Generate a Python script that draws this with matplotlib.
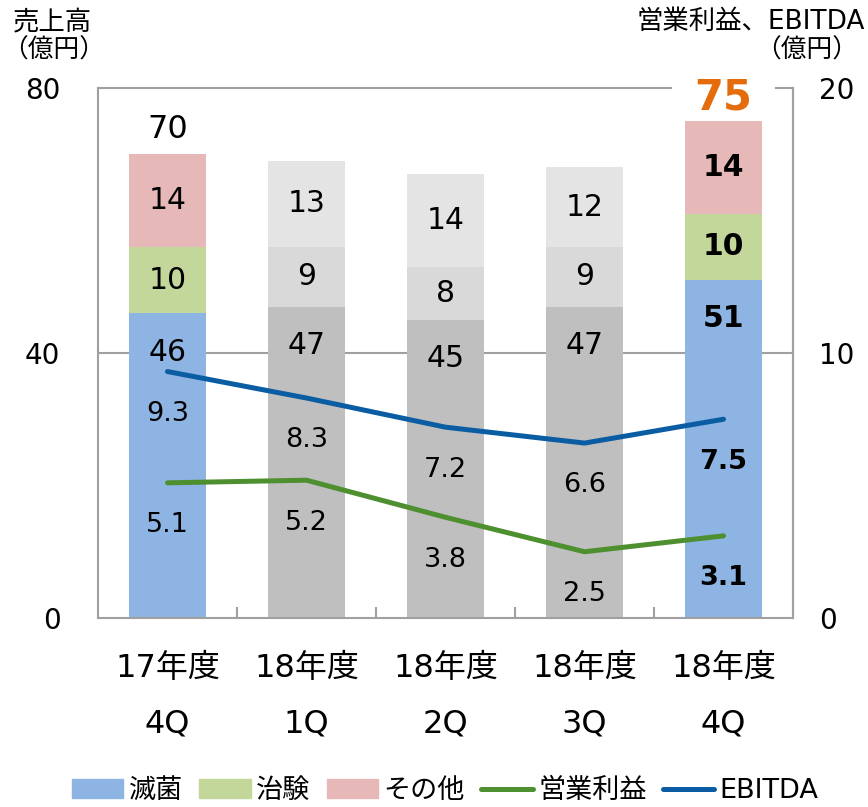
import numpy as np
import matplotlib
matplotlib.use('Agg')
import matplotlib.pyplot as plt
import matplotlib.transforms as mtrans
from matplotlib.patches import Patch
from matplotlib.lines import Line2D

plt.rcParams['font.family'] = ['DejaVu Sans', 'Noto Sans CJK JP']

# ---- data ----
periods = ['17年度\n4Q', '18年度\n1Q', '18年度\n2Q', '18年度\n3Q', '18年度\n4Q']
sterile = [46, 47, 45, 47, 51]      # 滅菌
trial = [10, 9, 8, 9, 10]           # 治験
other = [14, 13, 14, 12, 14]        # その他
totals = [70, None, None, None, 75]
op_profit = [5.1, 5.2, 3.8, 2.5, 3.1]
ebitda = [9.3, 8.3, 7.2, 6.6, 7.5]
highlight = [True, False, False, False, True]

# ---- colours ----
c_blue, c_green, c_pink = '#8DB4E2', '#C4D79B', '#E6B8B7'
g_bot, g_mid, g_top = '#BFBFBF', '#D9D9D9', '#E4E4E4'
c_op, c_eb = '#4E8F2F', '#0B5DA3'
c_axis = '#A0A0A0'

fig = plt.figure(figsize=(8.68, 8.07), dpi=100)
ax = fig.add_axes([0.1129, 0.2342, 0.8007, 0.6568])
ax2 = ax.twinx()

x = np.arange(len(periods))
w = 0.555
col_b = [c_blue if h else g_bot for h in highlight]
col_m = [c_green if h else g_mid for h in highlight]
col_t = [c_pink if h else g_top for h in highlight]

bot = np.array(sterile)
mid = np.array(trial)
ax.bar(x, sterile, w, color=col_b, zorder=2)
ax.bar(x, trial, w, bottom=bot, color=col_m, zorder=2)
ax.bar(x, other, w, bottom=bot + mid, color=col_t, zorder=2)

ax.set_xlim(-0.5, 4.5)
ax.set_ylim(0, 80)
ax.set_yticks([0, 40, 80])
ax.axhline(40, color=c_axis, lw=1.5, zorder=1)
ax2.set_ylim(0, 20)
ax2.set_yticks([0, 10, 20])

# segment labels
for i in x:
    fw = 'bold' if i == 4 else 'normal'
    ax.annotate(str(sterile[i]), (i, sterile[i]), xytext=(0, -28), textcoords='offset points',
                ha='center', va='center', fontsize=21.5, fontweight=fw, zorder=5)
    ax.text(i, sterile[i] + trial[i] / 2, str(trial[i]), ha='center', va='center',
            fontsize=21.5, fontweight=fw, zorder=5)
    ax.text(i, sterile[i] + trial[i] + other[i] / 2, str(other[i]), ha='center', va='center',
            fontsize=21.5, fontweight=fw, zorder=5)

# totals
ax.annotate(str(totals[0]), (0, sterile[0] + trial[0] + other[0]), xytext=(0, 18),
            textcoords='offset points', ha='center', va='center', fontsize=23)
ax2.annotate(str(totals[4]), (4, (sterile[4] + trial[4] + other[4]) / 4), xytext=(0, 17),
             textcoords='offset points', ha='center', va='center', fontsize=30,
             fontweight='bold', color='#E46C0A', zorder=6)

# lines
ax2.plot(x, ebitda, color=c_eb, lw=3.6, solid_capstyle='round', zorder=4)
ax2.plot(x, op_profit, color=c_op, lw=3.6, solid_capstyle='round', zorder=4)
for i in x:
    fw = 'bold' if i == 4 else 'normal'
    ax2.annotate(f'{ebitda[i]:.1f}', (i, ebitda[i]), xytext=(0, -30.5), textcoords='offset points',
                 ha='center', va='center', fontsize=19.5, fontweight=fw)
    ax2.annotate(f'{op_profit[i]:.1f}', (i, op_profit[i]), xytext=(0, -30.5), textcoords='offset points',
                 ha='center', va='center', fontsize=19.5, fontweight=fw)

# spines
for s in ['left', 'bottom', 'right']:
    ax.spines[s].set_color(c_axis)
    ax.spines[s].set_linewidth(1.5)
ax.spines['top'].set_visible(False)
for s in ['left', 'bottom', 'top']:
    ax2.spines[s].set_visible(False)
ax2.spines['right'].set_color(c_axis)
ax2.spines['right'].set_linewidth(1.5)
trans = mtrans.blended_transform_factory(ax.transData, ax.transAxes)
ax.plot([-0.5, 4 - 0.375], [1, 1], color=c_axis, lw=1.5, transform=trans, clip_on=False)
ax.plot([4 + 0.375, 4.5], [1, 1], color=c_axis, lw=1.5, transform=trans, clip_on=False)

# ticks
ax.set_xticks(x)
ax.set_xticklabels(periods, fontsize=23, linespacing=2.05)
ax.tick_params(axis='x', length=0, pad=25)
ax.set_xticks(x[:-1] + 0.5, minor=True)
ax.tick_params(axis='x', which='minor', direction='in', length=8, width=1.5, color=c_axis)
ax.tick_params(axis='y', length=0, pad=27, labelsize=20)
ax2.tick_params(axis='y', length=0, pad=19, labelsize=20)

# axis titles
fig.text(52 / 868, 1 - 22 / 807, '売上高', ha='center', va='center', fontsize=19)
fig.text(54 / 868, 1 - 51 / 807, '（億円）', ha='center', va='center', fontsize=18.5)
fig.text(865 / 868, 1 - 22 / 807, '営業利益、EBITDA', ha='right', va='center', fontsize=19)
fig.text(858 / 868, 1 - 51 / 807, '（億円）', ha='right', va='center', fontsize=18.5)

# legend
handles = [Patch(color=c_blue, label='滅菌'), Patch(color=c_green, label='治験'),
           Patch(color=c_pink, label='その他'),
           Line2D([], [], color=c_op, lw=3.6, solid_capstyle='round', label='営業利益'),
           Line2D([], [], color=c_eb, lw=3.6, solid_capstyle='round', label='EBITDA')]
fig.legend(handles=handles, loc='center', bbox_to_anchor=(0.513, 1 - 791 / 807), ncol=5,
           frameon=False, fontsize=19.5, handlelength=1.9, handleheight=0.7,
           handletextpad=0.2, columnspacing=0.6, borderaxespad=0)

fig.savefig('out.png', dpi=100)
